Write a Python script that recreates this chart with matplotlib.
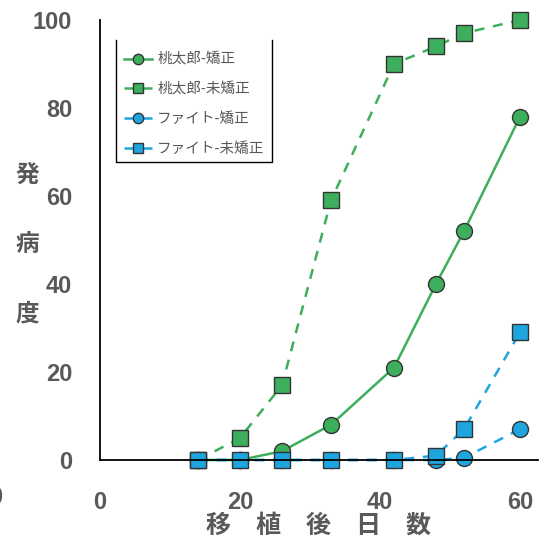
import matplotlib.pyplot as plt
from matplotlib.lines import Line2D

plt.rcParams['font.family'] = ['Liberation Sans', 'Noto Sans CJK JP', 'DejaVu Sans']

days = [14, 20, 26, 33, 42, 48, 52, 60]
momo_kyosei = [0, 0, 2, 8, 21, 40, 52, 78]
momo_mikyosei = [0, 5, 17, 59, 90, 94, 97, 100]
fight_kyosei = [0, 0, 0, 0, 0, 0, 0.5, 7]
fight_mikyosei = [0, 0, 0, 0, 0, 1, 7, 29]
names = ['桃太郎-矯正', '桃太郎-未矯正', 'ファイト-矯正', 'ファイト-未矯正']

green = '#3dae5b'
blue = '#1ea5e0'
edge = '#333333'
gray = '#595959'

W, H = 539, 547
fig = plt.figure(figsize=(W / 100, H / 100), dpi=100)
ax = fig.add_axes([100 / W, 87 / H, 437.5 / W, 440 / H])

ms = 11.5
dash = (0, (4, 3.5))
ax.plot(days, momo_kyosei, '-', color=green, lw=1.8, marker='o', ms=ms,
        mfc=green, mec=edge, mew=1, label=names[0], clip_on=False)
ax.plot(days, momo_mikyosei, color=green, lw=1.8, ls=dash, marker='s', ms=ms,
        mfc=green, mec=edge, mew=1, label=names[1], clip_on=False)
ax.plot(days, fight_kyosei, color=blue, lw=1.8, ls=dash, marker='o', ms=ms,
        mfc=blue, mec=edge, mew=1, label=names[2], clip_on=False)
ax.plot(days, fight_mikyosei, color=blue, lw=1.8, ls=dash, marker='s', ms=ms,
        mfc=blue, mec=edge, mew=1, label=names[3], clip_on=False)

ax.set_xlim(0, 62.5)
ax.set_ylim(0, 100)
ax.set_xticks([0, 20, 40, 60])
ax.set_yticks([0, 20, 40, 60, 80, 100])
for s in ['top', 'right']:
    ax.spines[s].set_visible(False)
for s in ['left', 'bottom']:
    ax.spines[s].set_linewidth(1.3)
    ax.spines[s].set_color('black')
ax.tick_params(axis='x', length=0, pad=22, labelsize=17, labelcolor=gray)
ax.tick_params(axis='y', length=0, pad=20, labelsize=17, labelcolor=gray)
for lab in ax.get_xticklabels() + ax.get_yticklabels():
    lab.set_fontweight('bold')

ax.set_xlabel('移　植　後　日　数', fontsize=18, fontweight='bold', color=gray,
              family=['Noto Sans CJK JP'], labelpad=0)
for ch, yp in zip('発病度', [175, 244, 313]):
    fig.text(27 / W, 1 - yp / H, ch, fontsize=17, fontweight='bold', color=gray,
             family=['Noto Sans CJK JP'], ha='center', va='center')

# partial tick label at the left edge
fig.text(-4 / W, 1 - 497 / H, '0', fontsize=17, fontweight='bold', color=gray,
         ha='center', va='center')

leg = ax.legend(loc='upper left', bbox_to_anchor=(18 / 437.5, (460 - 47) / 440),
                frameon=False, prop={'family': 'Noto Sans CJK JP', 'size': 10.5},
                labelcolor=gray, markerscale=0.65, handlelength=1.9,
                handletextpad=0.4, labelspacing=1.07, borderaxespad=0)

# legend border, open at the top
bx = [116 / W, 116 / W, 272 / W, 272 / W]
by = [1 - 40 / H, 1 - 162 / H, 1 - 162 / H, 1 - 40 / H]
fig.add_artist(Line2D(bx, by, color='black', lw=1, transform=fig.transFigure))

fig.savefig('out.png', dpi=100)
